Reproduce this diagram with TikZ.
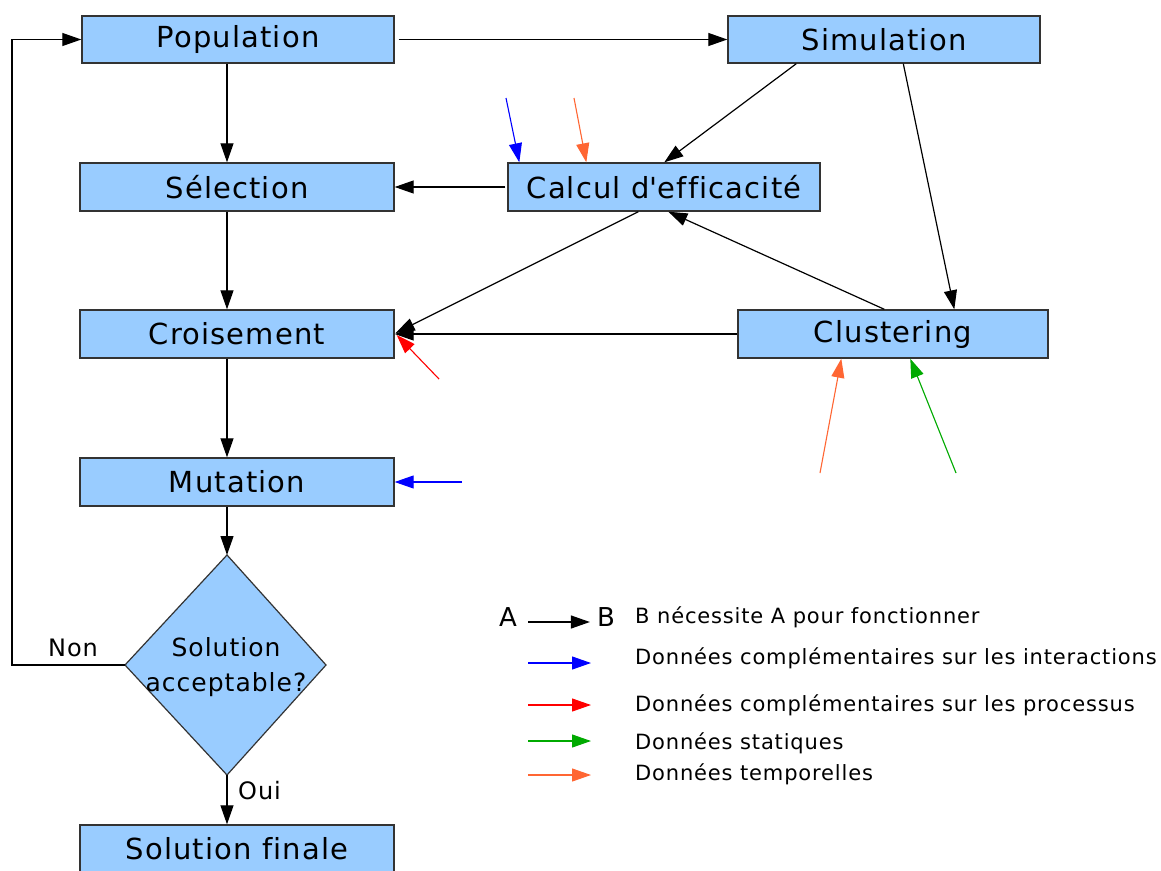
\documentclass[tikz,border=0pt]{standalone}
\usepackage{fontspec}
\setmainfont{DejaVu Sans}[LetterSpace=4, Ligatures={NoCommon}]
\usetikzlibrary{arrows.meta,calc}
\definecolor{boxfill}{HTML}{99CCFF}
\definecolor{boxline}{HTML}{333333}
\definecolor{dblue}{HTML}{0000FF}
\definecolor{dred}{HTML}{FF0000}
\definecolor{dgreen}{HTML}{00AA00}
\definecolor{dorange}{HTML}{FF6633}
\tikzset{
  box/.style={draw=boxline, line width=1.4pt, fill=boxfill, minimum height=48pt, inner sep=0pt,
    font=\fontsize{29}{34}\selectfont},
  conn/.style={line width=1.2pt, draw=black, -{Triangle[length=19pt,width=13pt]}},
  cin/.style={line width=1.1pt, -{Triangle[length=19pt,width=13pt]}},
  lbl/.style={font=\fontsize{24}{28}\selectfont, inner sep=0pt},
  legtext/.style={font=\fontsize{21}{25}\selectfont, anchor=west, inner sep=0pt},
}
\begin{document}
\begin{tikzpicture}[x=1pt,y=-1pt]
\useasboundingbox[fill=white] (0,0) rectangle (1161,870);
% boxes
\node[box, minimum width=312pt, minimum height=47pt] (pop) at (238,39.5) {Population};
\node[box, minimum width=312pt, minimum height=47pt] (sim) at (884,39.5) {Simulation};
\node[box, minimum width=314pt] (sel) at (237,187) {Sélection};
\node[box, minimum width=312pt] (cal) at (664,187) {Calcul d\textquotesingle efficacité};
\node[box, minimum width=314pt] (cro) at (237,334) {Croisement};
\node[box, minimum width=310pt] (clu) at (893,334) {Clustering};
\node[box, minimum width=314pt] (mut) at (237,482) {Mutation};
\node[box, minimum width=314pt] (fin) at (237,849) {Solution finale};
% diamond
\coordinate (dtop) at (227,555);
\coordinate (dright) at (326,665);
\coordinate (dbot) at (227,775);
\coordinate (dleft) at (125,665);
\filldraw[fill=boxfill, draw=boxline, line width=1.2pt] (dtop) -- (dright) -- (dbot) -- (dleft) -- cycle;
\node[align=center, font=\fontsize{25}{35}\selectfont, inner sep=0pt] (dtext) at (226,667) {Solution\\acceptable?};
% black connectors
\draw[conn, shorten <=4pt] (pop.east) -- (sim.west);
\draw[conn] (pop.south -| dtop) -- (sel.north -| dtop);
\draw[conn, shorten <=2pt] (cal.west) -- (sel.east);
\draw[conn] ($(sim.south west)+(69,0)$) -- ($(cal.north west)+(157,0)$);
\draw[conn] ($(sim.south west)+(176,0)$) -- ($(clu.north west)+(217,0)$);
\draw[conn] ($(clu.north west)+(147,0)$) -- ($(cal.south west)+(161,0)$);
\draw[conn] ($(cal.south west)+(131,0)$) -- ($(cro.east)+(1,-1)$);
\draw[conn] (clu.west) -- (cro.east);
\draw[conn] (sel.south -| dtop) -- (cro.north -| dtop);
\draw[conn] (cro.south -| dtop) -- (mut.north -| dtop);
\draw[conn] (mut.south -| dtop) -- (dtop);
\draw[conn] (dbot) -- (fin.north -| dbot);
\node[lbl, anchor=west] (oui) at (238,791) {Oui};
\coordinate (loopc) at (12,665);
\draw[conn] (dleft) -- (loopc) |- (pop.west);
\node[lbl] (non) at (73,648) {Non};
% coloured inputs
\coordinate (b1) at (506,98);
\coordinate (o1) at (574,98);
\coordinate (r1) at (439,379);
\coordinate (b2) at (462,482);
\coordinate (o2) at (820,473);
\coordinate (g1) at (956,473);
\draw[cin, dblue] (b1) -- ($(cal.north west)+(12,0)$);
\draw[cin, dorange] (o1) -- ($(cal.north west)+(79,0)$);
\draw[cin, dred] (r1) -- ($(cro.east)+(2,1)$);
\draw[cin, dblue] (b2) -- (mut.east);
\draw[cin, dorange] (o2) -- ($(clu.south west)+(104,0)$);
\draw[cin, dgreen] (g1) -- ($(clu.south west)+(173,0)$);
% legend
\node[font=\fontsize{26}{30}\selectfont, inner sep=0pt] (la) at (508,617) {A};
\node[font=\fontsize{26}{30}\selectfont, inner sep=0pt] (lb) at (606,617) {B};
\draw[conn] ([shift={(11pt,-5pt)}]la.east) -- ([shift={(-7pt,-5pt)}]lb.west);
\node[legtext] (t0) at (635,617) {B nécessite A pour fonctionner};
\coordinate (l1a) at (528,663); \coordinate (l1b) at (591,663);
\coordinate (l2a) at (528,705); \coordinate (l2b) at (591,705);
\coordinate (l3a) at (528,741); \coordinate (l3b) at (591,741);
\coordinate (l4a) at (528,775); \coordinate (l4b) at (591,775);
\draw[cin, dblue] (l1a) -- (l1b);
\draw[cin, dred] (l2a) -- (l2b);
\draw[cin, dgreen] (l3a) -- (l3b);
\draw[cin, dorange] (l4a) -- (l4b);
\node[legtext] (t1) at (635,658) {Données complémentaires sur les interactions};
\node[legtext] (t2) at (635,705) {Données complémentaires sur les processus};
\node[legtext] (t3) at (635,743) {Données statiques};
\node[legtext] (t4) at (635,774) {Données temporelles};
\end{tikzpicture}
\end{document}
